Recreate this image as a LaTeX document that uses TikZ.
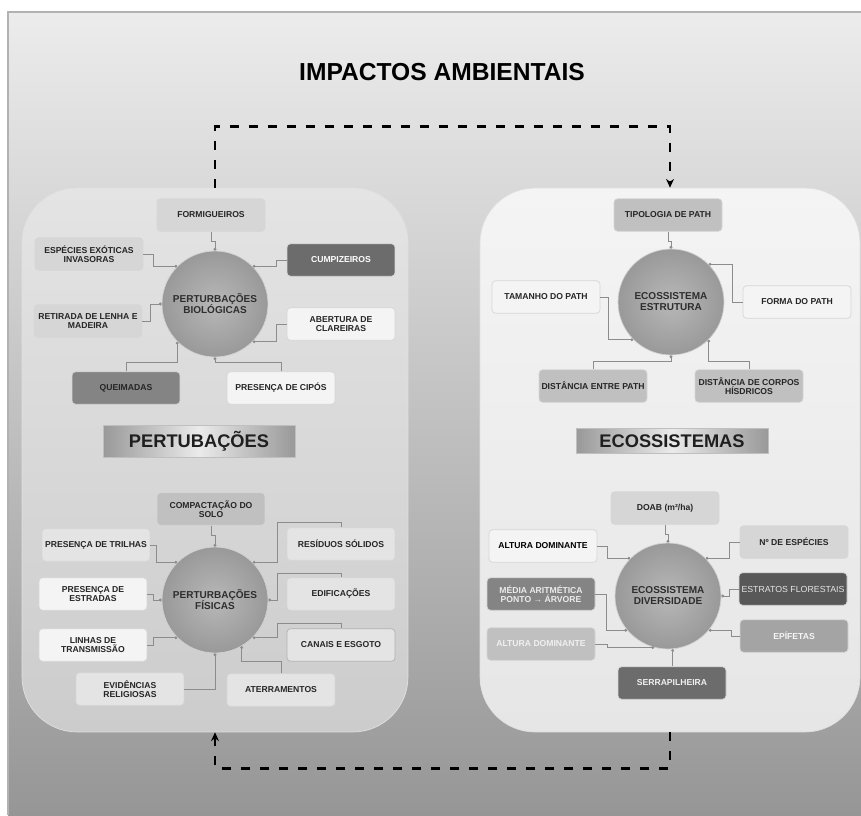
\documentclass[tikz,border=0pt]{standalone}
\usepackage{fontspec}
\setmainfont{Liberation Sans}
\usepackage{tikz}
\usetikzlibrary{shapes.geometric, positioning, arrows.meta, calc}
\definecolor{BgTop}{RGB}{236,236,236}
\definecolor{BgBot}{RGB}{150,150,150}
\definecolor{PanLTop}{RGB}{228,228,228}
\definecolor{PanLBot}{RGB}{204,204,204}
\definecolor{PanRTop}{RGB}{244,244,244}
\definecolor{PanRBot}{RGB}{230,230,230}
\definecolor{GrWhite}{RGB}{244,244,244}
\definecolor{GrPale}{RGB}{228,228,228}
\definecolor{GrLight}{RGB}{214,214,214}
\definecolor{GrMid}{RGB}{192,192,192}
\definecolor{GrSoft}{RGB}{164,164,164}
\definecolor{GrDim}{RGB}{132,132,132}
\definecolor{GrDark}{RGB}{108,108,108}
\definecolor{GrDeep}{RGB}{88,88,88}

\begin{document}
\begin{tikzpicture}[x=0.02cm, y=-0.02cm,
      itm/.style={rectangle, rounded corners=2pt, minimum width=2.16cm,
                  minimum height=0.65cm, inner sep=1pt, align=center,
                  font=\fontsize{4.9}{5.3}\selectfont\bfseries,
                  draw=black!16, text=black!85},
      hub/.style={circle, minimum size=2.12cm, inner sep=0pt, align=center,
                  font=\fontsize{5.7}{6.3}\selectfont\bfseries,
                  inner color=black!28, outer color=black!40, draw=black!18,
                  text=black!82},
      hdr/.style={rectangle, minimum width=3.84cm, minimum height=0.5cm,
                  font=\fontsize{10.4}{12}\selectfont\bfseries,
                  left color=black!40, right color=black!40, middle color=black!8,
                  draw=black!25, text=black!88},
      panel/.style={rectangle, rounded corners=1.1cm, minimum height=10.88cm,
                    draw=black!12},
      lnk/.style={draw=black!45, line width=0.4pt, -{Circle[length=1.6pt]}},
      cyc/.style={line width=1.4pt, dash pattern=on 0.18cm off 0.2cm,
                  -{Stealth[length=5pt, width=4.5pt]}}
    ]
    \useasboundingbox (0,0) rectangle (861,815);
    % Background
    \fill[white] (0,0) rectangle (861,815);
    \shade[top color=BgTop, bottom color=BgBot] (8,12) rectangle (861,815);
    \draw[black!30, line width=0.6pt] (8,815) -- (8,12) -- (861,12);

    % Title
    \node[font=\fontsize{14}{16}\selectfont\bfseries] (titulo) at (442,72)
          {IMPACTOS AMBIENTAIS};

    % Panels
    \node[panel, minimum width=7.72cm, top color=PanLTop, bottom color=PanLBot]
          (perturb) at (215,460) {};
    \node[panel, minimum width=7.6cm, top color=PanRTop, bottom color=PanRBot]
          (ecos) at (670,460) {};

    % Pertubacoes biologicas
    \node[hub] (bio) at (215,304) {PERTURBAÇÕES\\BIOLÓGICAS};
    \node[itm, fill=GrLight] (formig) at (211,215) {FORMIGUEIROS};
    \node[itm, fill=GrLight] (espec)  at (89,254)  {ESPÉCIES EXÓTICAS\\INVASORAS};
    \node[itm, fill=GrDark, text=white] (cump) at (341,260) {CUMPIZEIROS};
    \node[itm, fill=GrLight] (ret)    at (88,321)  {RETIRADA DE LENHA E\\MADEIRA};
    \node[itm, fill=GrWhite] (abert)  at (341,324) {ABERTURA DE\\CLAREIRAS};
    \node[itm, fill=GrDim]   (queim)  at (126,388) {QUEIMADAS};
    \node[itm, fill=GrWhite] (cipos)  at (281,388) {PRESENÇA DE CIPÓS};
    \draw[lnk] (formig.south) -- ++(0,10) -| (bio.north);
    \draw[lnk] (espec.east) -- ++(10,0) |- (bio.135);
    \draw[lnk] (cump.west) -- ++(-10,0) |- (bio.45);
    \draw[lnk] (ret.east) -- ++(8,0) |- (bio.west);
    \draw[lnk] (abert.west) -- ++(-10,0) |- (bio.-45);
    \draw[lnk] (queim.north) -- ++(0,-9) -| (bio.-135);
    \draw[lnk] (cipos.north) -- ++(0,-9) -| (bio.south);

    \node[hdr] (hdrL) at (199,441) {PERTUBAÇÕES};

    % Pertubacoes fisicas
    \node[hub] (fis) at (215,600) {PERTURBAÇÕES\\FÍSICAS};
    \node[itm, fill=GrMid]   (comp)   at (211,509) {COMPACTAÇÃO DO\\SOLO};
    \node[itm, fill=GrPale]  (tril)   at (96,545)  {PRESENÇA DE TRILHAS};
    \node[itm, fill=GrPale]  (resid)  at (341,544) {RESÍDUOS SÓLIDOS};
    \node[itm, fill=GrWhite] (estr)   at (93,594)  {PRESENÇA DE\\ESTRADAS};
    \node[itm, fill=GrPale]  (edif)   at (341,594) {EDIFICAÇÕES};
    \node[itm, fill=GrWhite] (lin)    at (93,645)  {LINHAS DE\\TRANSMISSÃO};
    \node[itm, fill=GrPale, draw=black!30] (canais) at (341,645) {CANAIS E ESGOTO};
    \node[itm, fill=GrPale]  (evid)   at (130,689) {EVIDÊNCIAS\\RELIGIOSAS};
    \node[itm, fill=GrPale]  (ater)   at (281,690) {ATERRAMENTOS};
    \draw[lnk] (comp.south) -- ++(0,10) -| (fis.north);
    \draw[lnk] (tril.east) -- ++(6,0) |- (fis.135);
    \draw[lnk] (resid.north) |- ++(-64,-5) |- (fis.45);
    \draw[lnk] (edif.north) |- ++(-64,-4) |- (fis.east);
    \draw[lnk] (canais.north) |- ++(-64,-5) |- (fis.-45);
    \draw[lnk] (estr.east) -- ++(6,0) |- (fis.west);
    \draw[lnk] (lin.east) -- ++(6,0) |- (fis.-135);
    \draw[lnk] (evid.east) -| (fis.south);
    \draw[lnk] (ater.north) -- ++(0,-12) -| (fis.-60);

    % Ecossistema estrutura
    \node[hub] (est) at (671,302) {ECOSSISTEMA\\ESTRUTURA};
    \node[itm, fill=GrMid]   (tip)   at (668,215) {TIPOLOGIA DE PATH};
    \node[itm, fill=GrWhite] (tam)   at (546,297) {TAMANHO DO PATH};
    \node[itm, fill=GrWhite] (forma) at (797,302) {FORMA DO PATH};
    \node[itm, fill=GrMid]   (dent)  at (593,386) {DISTÂNCIA ENTRE PATH};
    \node[itm, fill=GrMid]   (dcorp) at (749,386) {DISTÂNCIA DE CORPOS\\HÍSDRICOS};
    \draw[lnk] (tip.south) -- ++(0,10) -| (est.north);
    \draw[lnk] (tam.east) -- ++(8,0) |- (est.-135);
    \draw[lnk] (forma.west) -- ++(-10,0) |- (est.45);
    \draw[lnk] (dent.north) -- ++(0,-8) -| (est.south);
    \draw[lnk] (dcorp.north) -- ++(0,-8) -| (est.-45);

    \node[hdr] (hdrR) at (672,441) {ECOSSISTEMAS};

    % Ecossistema diversidade
    \node[hub] (div) at (668,596) {ECOSSISTEMA\\DIVERSIDADE};
    \node[itm, fill=GrLight] (doab)  at (665,508) {DOAB (m²/ha)};
    \node[itm, fill=GrWhite, text=black] (alt1) at (543,546) {ALTURA DOMINANTE};
    \node[itm, fill=GrLight] (nesp)  at (794,542) {Nº DE ESPÉCIES};
    \node[itm, fill=GrDim, text=black!8] (media) at (541,594)
          {MÉDIA ARITMÉTICA\\PONTO → ÁRVORE};
    \node[itm, fill=GrDeep, text=black!10, font=\fontsize{5}{5.5}\selectfont]
          (estr2) at (793,589) {ESTRATOS FLORESTAIS};
    \node[itm, fill=GrMid, text=black!6] (alt2) at (541,644) {ALTURA DOMINANTE};
    \node[itm, fill=GrSoft, text=black!4] (epif) at (794,636) {EPÍFETAS};
    \node[itm, fill=GrDark, text=black!6] (serra) at (672,683) {SERRAPILHEIRA};
    \draw[lnk] (doab.south) -- ++(0,10) -| (div.north);
    \draw[lnk] (alt1.east) -- ++(10,0) |- (div.135);
    \draw[lnk] (nesp.west) -- ++(-10,0) |- (div.45);
    \draw[lnk] (media.east) -- ++(11,0) |- (div.-140);
    \draw[lnk] (estr2.west) -- ++(-9,0) |- (div.east);
    \draw[lnk] (alt2.east) -- ++(12,0) |- (div.-105);
    \draw[lnk] (epif.west) -- ++(-8,0) |- (div.-40);
    \draw[lnk] (serra.north) -- ++(0,-10) -| (div.-85);

    % Cycle between panels
    \draw[cyc] (perturb.north) -- ++(0,-61) -| (ecos.north);
    \draw[cyc] (ecos.south) -- ++(0,36) -| (perturb.south);
  \end{tikzpicture}
\end{document}
